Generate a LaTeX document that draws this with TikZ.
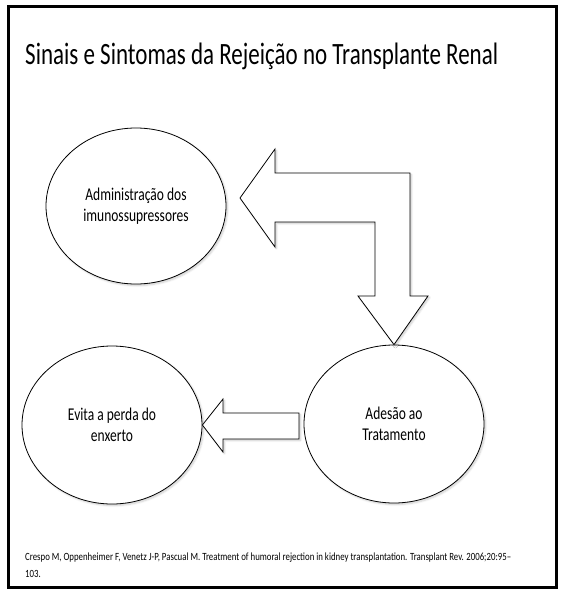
\documentclass[tikz,border=0pt]{standalone}
\usepackage{fontspec}
\setmainfont{Carlito}
\usetikzlibrary{shapes.geometric,shadows.blur}
\newcommand{\nx}[1]{\scalebox{0.75}[1]{#1}}
\begin{document}
\begin{tikzpicture}[x=1pt,y=-1pt,
  softshadow/.style={blur shadow={shadow xshift=1.5pt, shadow yshift=-1.5pt, shadow opacity=20, shadow blur steps=6}},
  bubble/.style={ellipse, draw, line width=0.8pt, fill=white, minimum width=180pt, minimum height=156pt, inner sep=0pt, align=center, font=\fontsize{18}{21}\selectfont, softshadow},
  blockarrow/.style={draw, line width=0.8pt, fill=white, line join=miter, softshadow}]
\useasboundingbox (0,0) rectangle (569,590);
\draw[line width=3pt] (8,6) rectangle (556,587);
\node[anchor=base west, inner sep=0pt, font=\fontsize{31}{37}\selectfont] (title) at (25,64) {\resizebox{473pt}{\height}{Sinais e Sintomas da Rejeição no Transplante Renal}};
\node[bubble] (adm) at (136,206) {\nx{Administração dos}\\\nx{imunossupressores}};
\node[bubble, minimum height=158pt] (ev) at (112,425) {\nx{Evita a perda do}\\\nx{enxerto}};
\node[bubble, minimum height=158pt] (ad) at (394,424) {\nx{Adesão ao}\\\nx{Tratamento}};
\draw[blockarrow] (240,198) -- (275,149) -- (275,173) -- (410,173) -- (410,296) -- (428,296) -- (ad.north) -- (358,296) -- (375,296) -- (375,222) -- (275,222) -- (275,247) -- cycle;
\draw[blockarrow] (ev.east) -- (223,399) -- (223,413) -- (299,413) -- (299,439) -- (223,439) -- (223,452) -- cycle;
\node[anchor=north west, inner sep=0pt, align=left, font=\fontsize{11}{17}\selectfont] (cite) at (25,553) {\scalebox{0.8}[1]{Crespo M, Oppenheimer F, Venetz J-P, Pascual M. Treatment of humoral rejection in kidney transplantation. Transplant Rev. 2006;20:95–}\\\scalebox{0.8}[1]{103.}};
\end{tikzpicture}
\end{document}
